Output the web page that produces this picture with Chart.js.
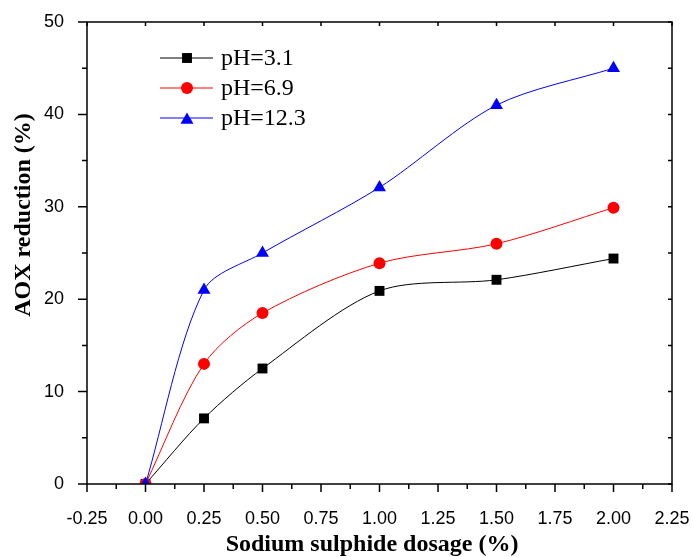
<!DOCTYPE html>
<html>
<head>
<meta charset="utf-8">
<script src="https://cdn.jsdelivr.net/npm/chart.js@4/dist/chart.umd.min.js"></script>
<style>
  body { margin: 0; background: #fff; }
</style>
</head>
<body>
<canvas id="aoxChart" width="693" height="557"></canvas>
<script>
// dosage (%) and AOX reduction (%)
const dosage = [0, 0.25, 0.5, 1.0, 1.5, 2.0];
const ph31 = [0, 7.1, 12.5, 20.9, 22.1, 24.4];
const ph69 = [0, 13.0, 18.5, 23.9, 26.0, 29.9];
const ph123 = [0, 21.0, 25.0, 32.1, 41.0, 45.0];
const seriesLabels = ['pH=3.1', 'pH=6.9', 'pH=12.3'];
const xTitle = 'Sodium sulphide dosage (%)';
const yTitle = 'AOX reduction (%)';

function toPoints(ys) {
  return dosage.map((x, i) => ({ x: x, y: ys[i] }));
}

function series(label, ys, color, style, radius, order) {
  return {
    label: label,
    data: toPoints(ys),
    borderColor: color,
    backgroundColor: color,
    borderWidth: 1,
    pointStyle: style,
    pointRadius: radius,
    pointBorderWidth: 0,
    tension: 0.3,
    order: order
  };
}

// frame, inner/outer ticks, axis titles
const framePlugin = {
  id: 'frame',
  afterDraw(chart) {
    const ctx = chart.ctx;
    const a = chart.chartArea;
    const xs = chart.scales.x, ys = chart.scales.y;
    ctx.save();
    ctx.strokeStyle = '#000';
    ctx.lineWidth = 1.5;
    ctx.strokeRect(a.left, a.top, a.right - a.left, a.bottom - a.top);

    ctx.beginPath();
    for (let v = -0.25; v <= 2.25 + 1e-9; v += 0.125) {
      const px = xs.getPixelForValue(v);
      const major = Math.abs(v / 0.25 - Math.round(v / 0.25)) < 1e-6;
      ctx.moveTo(px, a.bottom);
      ctx.lineTo(px, a.bottom + (major ? 8 : 5));
      if (major) {
        ctx.moveTo(px, a.top);
        ctx.lineTo(px, a.top + 4);
      }
    }
    for (let v = 0; v <= 50; v += 5) {
      const py = ys.getPixelForValue(v);
      const major = v % 10 === 0;
      ctx.moveTo(a.left, py);
      ctx.lineTo(a.left - (major ? 9 : 5), py);
      ctx.moveTo(a.right, py);
      ctx.lineTo(a.right - 4, py);
    }
    ctx.stroke();

    ctx.fillStyle = '#000';
    ctx.font = 'bold 24px "Liberation Serif", "Times New Roman", serif';
    ctx.textAlign = 'center';
    ctx.textBaseline = 'alphabetic';
    ctx.fillText(xTitle, 372, 551);
    ctx.translate(29.5, 215);
    ctx.rotate(-Math.PI / 2);
    ctx.fillText(yTitle, 0, 0);
    ctx.restore();
  }
};

// legend with line + marker samples
const legendPlugin = {
  id: 'lineLegend',
  afterDraw(chart) {
    const ctx = chart.ctx;
    ctx.save();
    chart.data.datasets.forEach((ds, i) => {
      const y = 58 + i * 30;
      ctx.strokeStyle = ds.borderColor;
      ctx.lineWidth = 1;
      ctx.beginPath();
      ctx.moveTo(160, y);
      ctx.lineTo(213, y);
      ctx.stroke();
      ctx.fillStyle = ds.backgroundColor;
      Chart.helpers.drawPoint(ctx, {
        pointStyle: ds.pointStyle,
        radius: ds.pointRadius,
        rotation: 0,
        borderWidth: 0
      }, 187, ds.pointStyle === 'triangle' ? y + 2 : y);
      ctx.fillStyle = '#000';
      ctx.font = '24px "Liberation Serif", "Times New Roman", serif';
      ctx.textAlign = 'left';
      ctx.textBaseline = 'middle';
      ctx.fillText(ds.label, 221, y + 1);
    });
    ctx.restore();
  }
};

const ctx = document.getElementById('aoxChart').getContext('2d');
const aoxChart = new Chart(ctx, {
  type: 'line',
  data: {
    datasets: [
      series(seriesLabels[0], ph31, '#000000', 'rect', 7, 2),
      series(seriesLabels[1], ph69, '#ff0000', 'circle', 6, 1),
      series(seriesLabels[2], ph123, '#0000ff', 'triangle', 7.5, 0)
    ]
  },
  options: {
    responsive: false,
    animation: false,
    layout: {
      padding: { top: 22, right: 21, left: 0, bottom: 0 }
    },
    plugins: {
      legend: { display: false },
      tooltip: { enabled: false }
    },
    scales: {
      x: {
        type: 'linear',
        min: -0.25,
        max: 2.25,
        grid: { display: false },
        border: { display: false },
        afterFit: (s) => { s.height = 73; s.paddingLeft = 0; s.paddingRight = 0; },
        ticks: {
          stepSize: 0.25,
          padding: 16,
          color: '#000',
          font: { family: '"Liberation Sans", Arial, sans-serif', size: 18 },
          callback: (v) => v.toFixed(2)
        }
      },
      y: {
        min: 0,
        max: 50,
        grid: { display: false },
        border: { display: false },
        afterFit: (s) => { s.width = 87; s.paddingTop = 0; s.paddingBottom = 0; },
        ticks: {
          stepSize: 10,
          padding: 15,
          color: '#000',
          font: { family: '"Liberation Sans", Arial, sans-serif', size: 18 }
        }
      }
    }
  },
  plugins: [framePlugin, legendPlugin]
});
</script>
</body>
</html>
